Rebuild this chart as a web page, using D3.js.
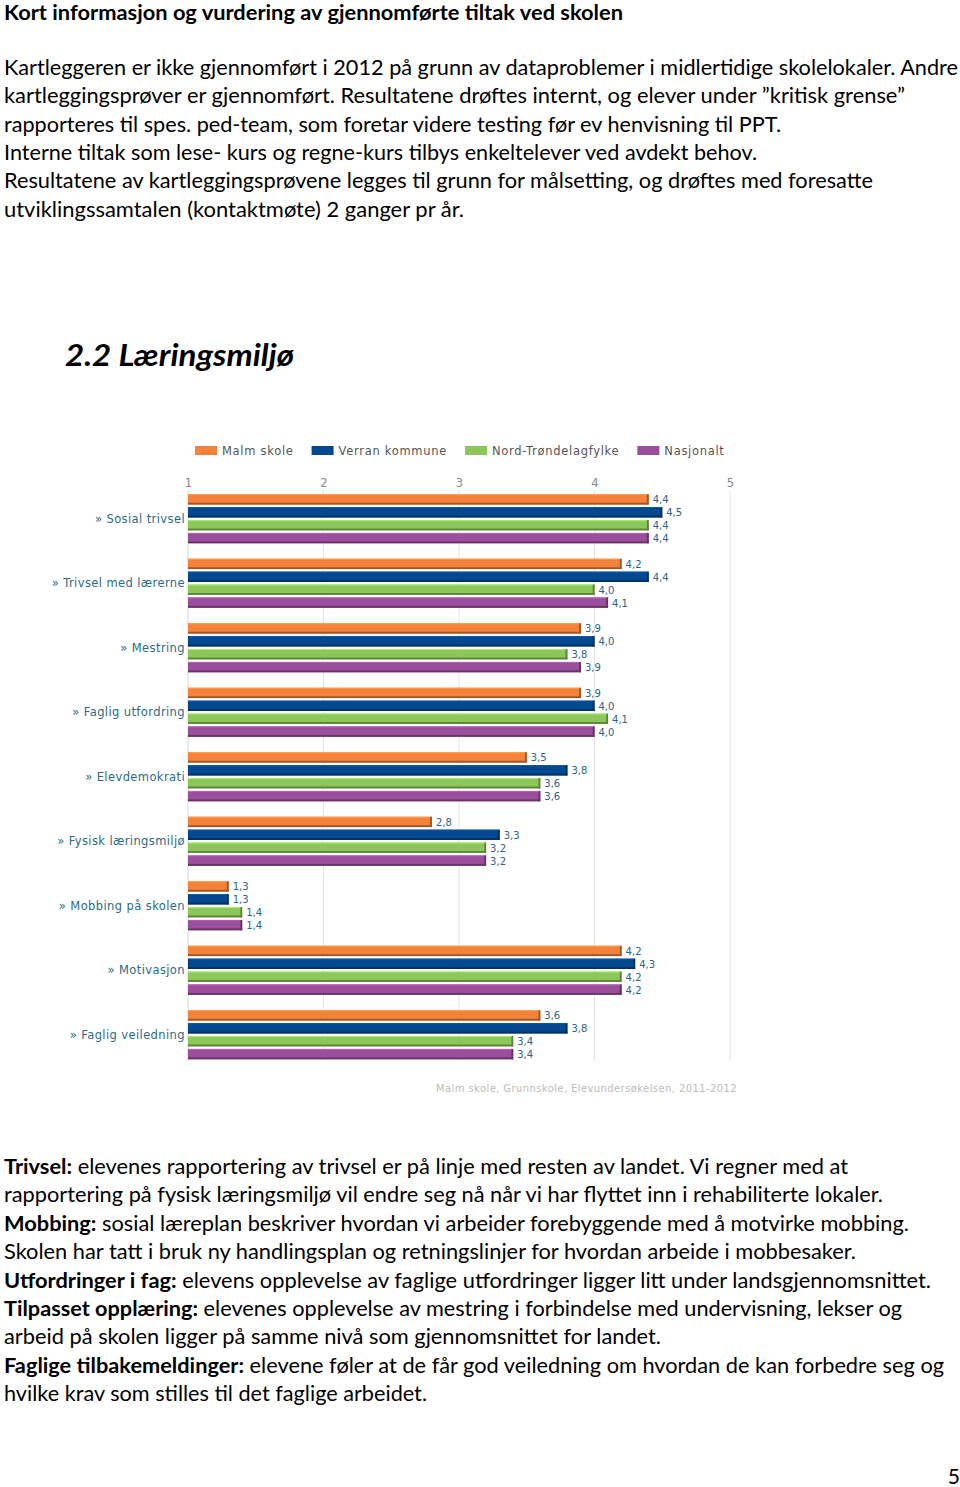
<!DOCTYPE html>
<html>
<head>
<meta charset="utf-8">
<script src="https://cdn.jsdelivr.net/npm/d3@7"></script>
<style>
  body { margin: 0; background: #fff; }
  svg { display: block; }
</style>
</head>
<body>
<svg width="960" height="1487"></svg>
<script>
// Chart data
const categories = ["Sosial trivsel", "Trivsel med lærerne", "Mestring", "Faglig utfordring",
    "Elevdemokrati", "Fysisk læringsmiljø", "Mobbing på skolen", "Motivasjon", "Faglig veiledning"];
const seriesNames = ["Malm skole", "Verran kommune", "Nord-Trøndelagfylke", "Nasjonalt"];
const malmSkole     = [4.4, 4.2, 3.9, 3.9, 3.5, 2.8, 1.3, 4.2, 3.6];
const verranKommune = [4.5, 4.4, 4.0, 4.0, 3.8, 3.3, 1.3, 4.3, 3.8];
const nordTrondelag = [4.4, 4.0, 3.8, 4.1, 3.6, 3.2, 1.4, 4.2, 3.4];
const nasjonalt     = [4.4, 4.1, 3.9, 4.0, 3.6, 3.2, 1.4, 4.2, 3.4];
const tickValues = [1, 2, 3, 4, 5];
const colors = ["#f5823a", "#04498f", "#8dc75a", "#9b4e9b"];
const sourceText = "Malm skole, Grunnskole, Elevundersøkelsen, 2011-2012";

// Page text
const headingText = "Kort informasjon og vurdering av gjennomførte tiltak ved skolen";
const introLines = [
    "Kartleggeren er ikke gjennomført i 2012 på grunn av dataproblemer i midlertidige skolelokaler. Andre",
    "kartleggingsprøver er gjennomført. Resultatene drøftes internt, og elever under \u201dkritisk grense\u201d",
    "rapporteres til spes. ped-team, som foretar videre testing før ev henvisning til PPT.",
    "Interne tiltak som lese- kurs og regne-kurs tilbys enkeltelever ved avdekt behov.",
    "Resultatene av kartleggingsprøvene legges til grunn for målsetting, og drøftes med foresatte",
    "utviklingssamtalen (kontaktmøte) 2 ganger pr år."
];
const introWidths = [954, 901, 777, 753, 869, 460];
const sectionTitle = "2.2 Læringsmiljø";
const outroLines = [
    ["Trivsel:", " elevenes rapportering av trivsel er på linje med resten av landet. Vi regner med at"],
    ["", "rapportering på fysisk læringsmiljø vil endre seg nå når vi har flyttet inn i rehabiliterte lokaler."],
    ["Mobbing:", " sosial læreplan beskriver hvordan vi arbeider forebyggende med å motvirke mobbing."],
    ["", "Skolen har tatt i bruk ny handlingsplan og retningslinjer for hvordan arbeide i mobbesaker."],
    ["Utfordringer i fag:", " elevens opplevelse av faglige utfordringer ligger litt under landsgjennomsnittet."],
    ["Tilpasset opplæring:", " elevenes opplevelse av mestring i forbindelse med undervisning, lekser og"],
    ["", "arbeid på skolen ligger på samme nivå som gjennomsnittet for landet."],
    ["Faglige tilbakemeldinger:", " elevene føler at de får god veiledning om hvordan de kan forbedre seg og"],
    ["", "hvilke krav som stilles til det faglige arbeidet."]
];
const outroWidths = [844, 879, 905, 852, 927, 898, 657, 940, 423];

const svg = d3.select("svg");
const bodyFont = "Lato, 'Open Sans', sans-serif";
const chartFont = "'DejaVu Sans', Verdana, sans-serif";

// Heading and intro
svg.append("text")
    .attr("x", 4).attr("y", 19.5)
    .attr("font-family", bodyFont).attr("font-weight", "bold").attr("font-size", 20)
    .attr("textLength", 619).attr("lengthAdjust", "spacingAndGlyphs")
    .text(headingText);

introLines.forEach((line, i) => {
    svg.append("text")
        .attr("x", 4).attr("y", 75 + i * 28.3)
        .attr("font-family", bodyFont).attr("font-size", 21)
        .attr("textLength", introWidths[i]).attr("lengthAdjust", "spacingAndGlyphs")
        .text(line);
});

svg.append("text")
    .attr("x", 65).attr("y", 366)
    .attr("font-family", bodyFont).attr("font-weight", "bold").attr("font-style", "italic")
    .attr("font-size", 30)
    .attr("textLength", 229).attr("lengthAdjust", "spacingAndGlyphs")
    .text(sectionTitle);

// Chart
const data = categories.map((c, i) => ({
    category: c,
    values: [malmSkole[i], verranKommune[i], nordTrondelag[i], nasjonalt[i]]
}));

const x = d3.scaleLinear().domain([1, 5]).range([188, 730]);
const y0 = d3.scaleBand().domain(categories).range([486.5, 1067])
    .paddingInner(0.2).paddingOuter(0.1);
const y1 = d3.scaleBand().domain(seriesNames).range([0, y0.bandwidth()])
    .paddingInner(0.2).paddingOuter(0.1);

const chartTop = 490, chartBottom = 1061;

// Gridlines
svg.append("g")
    .selectAll("line")
    .data(tickValues)
    .join("line")
    .attr("x1", d => x(d)).attr("x2", d => x(d))
    .attr("y1", chartTop).attr("y2", chartBottom)
    .attr("stroke", d => d === 1 ? "#d6d6d6" : "#e4e4e4")
    .attr("stroke-width", 1);

// Top axis tick labels
const xAxis = svg.append("g")
    .attr("transform", `translate(0,${chartTop - 3})`)
    .call(d3.axisTop(x).tickValues(tickValues).tickSize(0).tickPadding(0).tickFormat(d3.format("d")));
xAxis.select(".domain").remove();
xAxis.selectAll("text")
    .attr("font-family", chartFont).attr("font-size", 11.5).attr("fill", "#8a8a8a");

// Legend
const legend = svg.append("g").attr("transform", "translate(195,446)");
let lx = 0;
seriesNames.forEach((name, i) => {
    const g = legend.append("g").attr("transform", `translate(${lx},0)`);
    g.append("rect").attr("width", 22).attr("height", 9).attr("fill", colors[i]);
    const t = g.append("text")
        .attr("x", 27).attr("y", 8.5)
        .attr("font-family", chartFont).attr("font-size", 11.5).attr("fill", "#555")
        .attr("letter-spacing", 0.7)
        .text(name);
    lx += 27 + t.node().getComputedTextLength() + 18;
});

// Bars
const groups = svg.append("g")
    .selectAll("g")
    .data(data)
    .join("g")
    .attr("transform", d => `translate(0,${y0(d.category)})`);

const bars = groups.selectAll("g")
    .data(d => d.values.map((v, i) => ({ name: seriesNames[i], value: v, i })))
    .join("g")
    .attr("transform", d => `translate(0,${y1(d.name)})`);

const bh = y1.bandwidth();
bars.append("rect")
    .attr("x", x(1)).attr("y", 0)
    .attr("width", d => x(d.value) - x(1)).attr("height", bh)
    .attr("fill", d => colors[d.i]);
// darker bottom edge
bars.append("rect")
    .attr("x", x(1)).attr("y", bh - 1.8)
    .attr("width", d => x(d.value) - x(1)).attr("height", 1.8)
    .attr("fill", d => d3.color(colors[d.i]).darker(1.2));
// darker right edge
bars.append("rect")
    .attr("x", d => x(d.value) - 1.8).attr("y", 0)
    .attr("width", 1.8).attr("height", bh)
    .attr("fill", d => d3.color(colors[d.i]).darker(1.2));
// light top edge
bars.append("rect")
    .attr("x", x(1)).attr("y", 0)
    .attr("width", d => x(d.value) - x(1) - 1.8).attr("height", 1)
    .attr("fill", d => d3.color(colors[d.i]).brighter(0.5));

// Value labels
const fmt = v => d3.format(".1f")(v).replace(".", ",");
bars.append("text")
    .attr("x", d => x(d.value) + 4)
    .attr("y", bh / 2 + 4)
    .attr("font-family", chartFont).attr("font-size", 10).attr("fill", "#2b6484")
    .text(d => fmt(d.value));

// Category labels
groups.append("text")
    .attr("x", 185)
    .attr("y", y0.bandwidth() / 2 + 4)
    .attr("text-anchor", "end")
    .attr("font-family", chartFont).attr("font-size", 11.5).attr("fill", "#2b6a88")
    .attr("letter-spacing", 0.4)
    .text(d => "\u00bb " + d.category);

// Source
svg.append("text")
    .attr("x", 737).attr("y", 1092)
    .attr("text-anchor", "end")
    .attr("font-family", chartFont).attr("font-size", 10).attr("fill", "#bbbbbb")
    .attr("letter-spacing", 0.4)
    .text(sourceText);

// Outro
outroLines.forEach((parts, i) => {
    const t = svg.append("text")
        .attr("x", 4).attr("y", 1174 + i * 28.4)
        .attr("font-family", bodyFont).attr("font-size", 21)
        .attr("textLength", outroWidths[i]).attr("lengthAdjust", "spacingAndGlyphs");
    if (parts[0]) t.append("tspan").attr("font-weight", "bold").text(parts[0]);
    t.append("tspan").text(parts[1]);
});

// Page number
svg.append("text")
    .attr("x", 960).attr("y", 1484)
    .attr("text-anchor", "end")
    .attr("font-family", bodyFont).attr("font-size", 21)
    .text("5");
</script>
</body>
</html>
